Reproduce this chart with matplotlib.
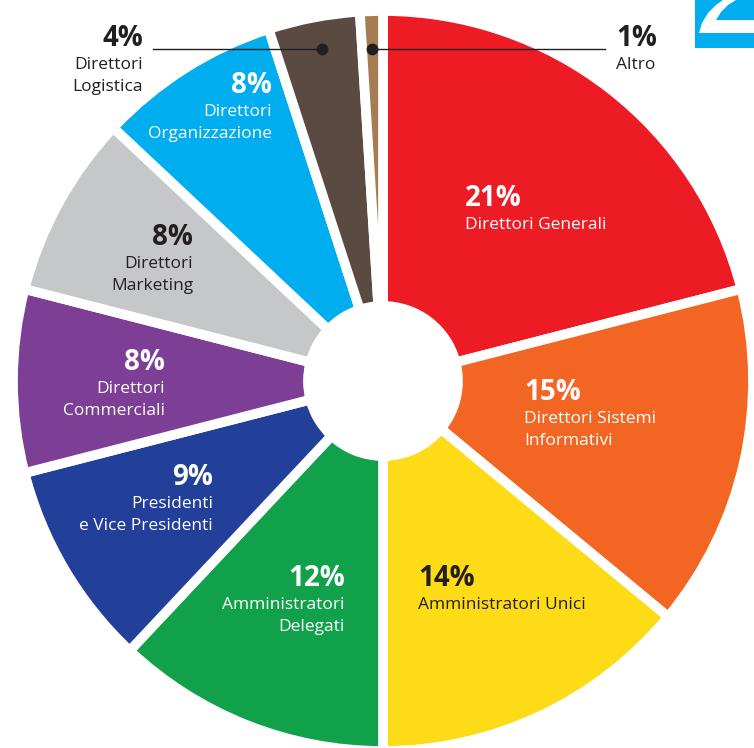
import matplotlib.pyplot as plt
from matplotlib.patches import Rectangle, Polygon

plt.rcParams['font.family'] = ['Open Sans', 'DejaVu Sans']

# data
values = [21, 15, 14, 12, 9, 8, 8, 8, 4, 1]
pct_labels = ["21%", "15%", "14%", "12%", "9%", "8%", "8%", "8%", "4%", "1%"]
names = [
    ["Direttori Generali"],
    ["Direttori Sistemi", "Informativi"],
    ["Amministratori Unici"],
    ["Amministratori", "Delegati"],
    ["Presidenti", "e Vice Presidenti"],
    ["Direttori", "Commerciali"],
    ["Direttori", "Marketing"],
    ["Direttori", "Organizzazione"],
    ["Direttori", "Logistica"],
    ["Altro"],
]
colors = ["#ED1C24", "#F26522", "#FDDB17", "#10A14A", "#22409A",
          "#7D3E96", "#C6C7C9", "#00AEEF", "#5A4A42", "#A67C52"]
text_colors = ["white", "white", "#231F20", "white", "white",
               "white", "#231F20", "white", "#231F20", "#231F20"]

# label placement in picture pixels: x anchor, alignment, y of percent line
label_x = [465, 524, 418, 345, 213, 165, 193, 272, 143, 616]
label_ha = ["left", "left", "left", "right", "right",
            "right", "right", "right", "right", "left"]
label_y = [198, 392, 578, 578, 477, 362, 237, 85, 38, 38]

W, H = 754, 748
fig = plt.figure(figsize=(W / 100, H / 100), dpi=100)
ax = fig.add_axes([0, 0, 1, 1])

cx, cy = 383, H - 381
ax.pie(values, colors=colors, startangle=90, counterclock=False,
       center=(cx, cy), radius=370,
       wedgeprops=dict(width=295, edgecolor="white", linewidth=7))

for i in range(len(values)):
    x = label_x[i]
    y = label_y[i]
    ax.text(x, H - y, pct_labels[i], ha=label_ha[i], va="center",
            fontsize=20, fontweight="bold", color=text_colors[i])
    for j, line in enumerate(names[i]):
        ax.text(x, H - (y + 27 + 22 * j), line, ha=label_ha[i], va="center",
                fontsize=12.5, color=text_colors[i])

# leader lines for the small slices
ax.plot([153, 322], [H - 49, H - 49], color="#231F20", lw=1)
ax.plot([322], [H - 49], "o", color="#231F20", ms=7.5)
ax.plot([372, 605], [H - 49, H - 49], color="#231F20", lw=1)
ax.plot([372], [H - 49], "o", color="#231F20", ms=7.5)

# piece of logo in the corner
ax.add_patch(Rectangle((695, H - 48), 59, 48, color="#00AEEF", lw=0))
ax.add_patch(Polygon([(699, H - 33), (702, H - 23), (708, H - 13), (716, H - 5),
                      (723, H), (736, H), (728, H - 5), (721, H - 12),
                      (716, H - 20), (754, H - 20), (754, H - 33)],
                     closed=True, color="white", lw=0))

ax.set_xlim(0, W)
ax.set_ylim(0, H)
ax.axis("off")
fig.savefig("out.png", dpi=100)
